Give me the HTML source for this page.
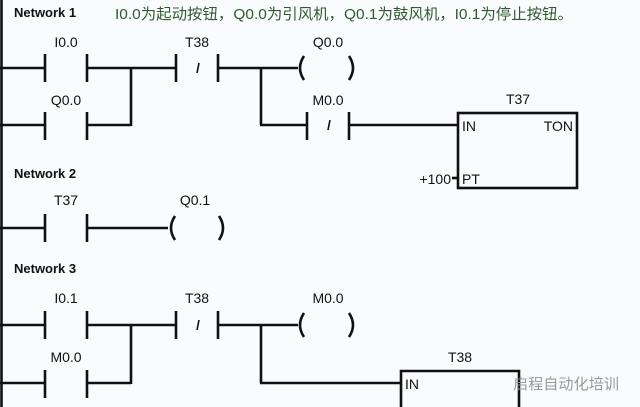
<!DOCTYPE html>
<html><head><meta charset="utf-8"><style>
html,body{margin:0;padding:0;background:#fafbfc;}
svg{display:block;}
text{font-family:"Liberation Sans","Noto Sans CJK SC",sans-serif;fill:#111;}
.l{font-size:14px;}
.n{font-size:13px;font-weight:bold;}
</style></head><body>
<svg width="640" height="407" viewBox="0 0 640 407" xmlns="http://www.w3.org/2000/svg">
<g stroke="#111" stroke-width="2.6" fill="none">
<line x1="1.5" y1="0" x2="1.5" y2="407"/>
<line x1="0" y1="68" x2="45" y2="68"/><line x1="45" y1="54" x2="45" y2="82"/>
<line x1="87" y1="54" x2="87" y2="82"/><line x1="87" y1="68" x2="176" y2="68"/>
<line x1="176" y1="54" x2="176" y2="82"/><line x1="218" y1="54" x2="218" y2="82"/>
<line x1="218" y1="68" x2="298" y2="68"/>
<line x1="0" y1="125" x2="45" y2="125"/><line x1="45" y1="112" x2="45" y2="140"/>
<line x1="87" y1="112" x2="87" y2="140"/><line x1="87" y1="125" x2="131" y2="125"/>
<line x1="131" y1="68" x2="131" y2="126"/>
<line x1="261" y1="68" x2="261" y2="125"/><line x1="260" y1="125" x2="307" y2="125"/>
<line x1="307" y1="112" x2="307" y2="140"/><line x1="349" y1="112" x2="349" y2="140"/>
<line x1="349" y1="125" x2="458" y2="125"/>
<rect x="458" y="113" width="119" height="75"/>
<line x1="452" y1="178" x2="458" y2="178"/>
<path d="M304 56 Q296 68 304 80"/><path d="M349 56 Q357 68 349 80"/>
<line x1="0" y1="228" x2="45" y2="228"/><line x1="45" y1="214" x2="45" y2="242"/>
<line x1="87" y1="214" x2="87" y2="242"/><line x1="87" y1="228" x2="168" y2="228"/>
<path d="M175 216 Q167 228 175 240"/><path d="M219 216 Q227 228 219 240"/>
<line x1="0" y1="325" x2="45" y2="325"/><line x1="45" y1="311" x2="45" y2="339"/>
<line x1="87" y1="311" x2="87" y2="339"/><line x1="87" y1="325" x2="176" y2="325"/>
<line x1="176" y1="311" x2="176" y2="339"/><line x1="218" y1="311" x2="218" y2="339"/>
<line x1="218" y1="325" x2="298" y2="325"/>
<path d="M304 313 Q296 325 304 337"/><path d="M349 313 Q357 325 349 337"/>
<line x1="0" y1="383" x2="45" y2="383"/><line x1="45" y1="370" x2="45" y2="398"/>
<line x1="87" y1="370" x2="87" y2="398"/><line x1="87" y1="383" x2="131" y2="383"/>
<line x1="131" y1="325" x2="131" y2="384"/>
<line x1="261" y1="325" x2="261" y2="383"/><line x1="260" y1="383" x2="401" y2="383"/>
<path d="M401 407 V371 H519 V407"/>
</g>
<g stroke="#111" stroke-width="1.6">
<line x1="199" y1="63" x2="197" y2="73"/><line x1="330" y1="120" x2="328" y2="130"/>
<line x1="199" y1="320" x2="197" y2="330"/>
</g>
<text class="n" x="14" y="17">Network 1</text>
<text x="115" y="19" textLength="458" lengthAdjust="spacingAndGlyphs" style="font-size:15px;fill:#2f5a2f">I0.0为起动按钮，Q0.0为引风机，Q0.1为鼓风机，I0.1为停止按钮。</text>
<text class="l" x="66" y="47" text-anchor="middle">I0.0</text>
<text class="l" x="197" y="47" text-anchor="middle">T38</text>
<text class="l" x="328" y="47" text-anchor="middle">Q0.0</text>
<text class="l" x="66" y="105" text-anchor="middle">Q0.0</text>
<text class="l" x="328" y="105" text-anchor="middle">M0.0</text>
<text class="l" x="518" y="104" text-anchor="middle">T37</text>
<text class="l" x="462" y="131">IN</text>
<text class="l" x="573" y="131" text-anchor="end">TON</text>
<text class="l" x="462" y="184">PT</text>
<text class="l" x="451" y="184" text-anchor="end">+100</text>
<text class="n" x="14" y="178">Network 2</text>
<text class="l" x="66" y="205" text-anchor="middle">T37</text>
<text class="l" x="195" y="205" text-anchor="middle">Q0.1</text>
<text class="n" x="14" y="273">Network 3</text>
<text class="l" x="66" y="303" text-anchor="middle">I0.1</text>
<text class="l" x="197" y="303" text-anchor="middle">T38</text>
<text class="l" x="328" y="303" text-anchor="middle">M0.0</text>
<text class="l" x="66" y="362" text-anchor="middle">M0.0</text>
<text class="l" x="460" y="362" text-anchor="middle">T38</text>
<text class="l" x="405" y="389">IN</text>
<text x="513" y="389" textLength="106" lengthAdjust="spacingAndGlyphs" style="font-size:15px;fill:#999">启程自动化培训</text>
</svg>
</body></html>
